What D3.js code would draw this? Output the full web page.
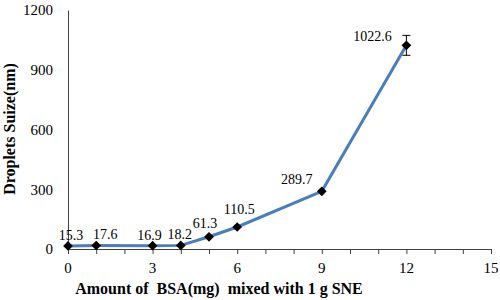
<!DOCTYPE html>
<html>
<head>
<meta charset="utf-8">
<script src="https://cdnjs.cloudflare.com/ajax/libs/d3/7.8.5/d3.min.js"></script>
<style>
  body { margin: 0; background: #fff; }
  svg, svg text { font-family: "Liberation Serif", "Times New Roman", Times, "DejaVu Serif", serif !important; }
</style>
</head>
<body>
<div id="chart"></div>
<script>
// data
const bsaAmount = [0, 1, 3, 4, 5, 6, 9, 12];
const dropletSize = [15.3, 17.6, 16.9, 18.2, 61.3, 110.5, 289.7, 1022.6];
const sizeError = [0, 0, 0, 0, 0, 0, 0, 50];
const xTicks = [0, 3, 6, 9, 12, 15];
const yTicks = [0, 300, 600, 900, 1200];

// label offsets (dx, dy) relative to each point
const labelOffsets = [[3, -6], [9, -6], [-3, -6], [-1, -6], [-4, -9], [2, -13], [-25, -7], [-34, -4]];

const width = 500, height = 300;
const margin = {top: 10, right: 9, bottom: 51, left: 68};

const svg = d3.select("#chart")
    .append("svg")
    .attr("width", width)
    .attr("height", height);

const x = d3.scaleLinear()
    .domain([0, 15])
    .range([margin.left, width - margin.right]);

const y = d3.scaleLinear()
    .domain([0, 1200])
    .range([height - margin.bottom, margin.top]);

// x axis with minor ticks every unit
const xAxis = svg.append("g")
    .attr("transform", "translate(0," + y(0) + ")")
    .call(d3.axisBottom(x).tickValues(d3.range(0, 16)).tickSize(5).tickFormat(""));
xAxis.select(".domain").attr("stroke", "#404040");
xAxis.selectAll(".tick line").attr("stroke", "#404040");

svg.append("g")
    .selectAll("text")
    .data(xTicks)
    .enter()
    .append("text")
    .attr("x", d => x(d))
    .attr("y", y(0) + 24)
    .attr("text-anchor", "middle")
    .attr("font-size", 15)
    .text(d => d);

// y axis
const yAxis = svg.append("g")
    .attr("transform", "translate(" + x(0) + ",0)")
    .call(d3.axisLeft(y).tickValues(yTicks).tickSize(0).tickPadding(15).tickFormat(d3.format("d")));
yAxis.select(".domain").attr("stroke", "#404040");
yAxis.selectAll(".tick text")
    .attr("font-size", 15)
    .attr("fill", "#000");

// axis titles
svg.append("text")
    .attr("x", 219)
    .attr("y", 294)
    .attr("text-anchor", "middle")
    .attr("font-size", 16)
    .attr("font-weight", "bold")
    .style("white-space", "pre")
    .text("Amount of  BSA(mg)  mixed with 1 g SNE");

svg.append("text")
    .attr("transform", "translate(15," + 129 + ")rotate(-90)")
    .attr("text-anchor", "middle")
    .attr("font-size", 16)
    .attr("font-weight", "bold")
    .text("Droplets Suize(nm)");

const points = bsaAmount.map((d, i) => ({x: d, y: dropletSize[i], err: sizeError[i], off: labelOffsets[i]}));

// line
svg.append("path")
    .datum(points)
    .attr("fill", "none")
    .attr("stroke", "#4a7ebb")
    .attr("stroke-width", 3)
    .attr("d", d3.line().x(d => x(d.x)).y(d => y(d.y)));

// error bars
const errs = svg.append("g").selectAll("g")
    .data(points.filter(d => d.err > 0))
    .enter()
    .append("g")
    .attr("stroke", "#000")
    .attr("stroke-width", 1);
errs.append("line")
    .attr("x1", d => x(d.x)).attr("x2", d => x(d.x))
    .attr("y1", d => y(d.y + d.err)).attr("y2", d => y(d.y - d.err));
errs.append("line")
    .attr("x1", d => x(d.x) - 4).attr("x2", d => x(d.x) + 4)
    .attr("y1", d => y(d.y + d.err)).attr("y2", d => y(d.y + d.err));
errs.append("line")
    .attr("x1", d => x(d.x) - 4).attr("x2", d => x(d.x) + 4)
    .attr("y1", d => y(d.y - d.err)).attr("y2", d => y(d.y - d.err));

// diamond markers
svg.append("g").selectAll("path")
    .data(points)
    .enter()
    .append("path")
    .attr("transform", d => "translate(" + x(d.x) + "," + y(d.y) + ")")
    .attr("d", d3.symbol().type(d3.symbolDiamond2).size(60))
    .attr("fill", "#000");

// value labels
svg.append("g").selectAll("text")
    .data(points)
    .enter()
    .append("text")
    .attr("x", d => x(d.x) + d.off[0])
    .attr("y", d => y(d.y) + d.off[1])
    .attr("text-anchor", "middle")
    .attr("font-size", 14)
    .text(d => d.y);
</script>
</body>
</html>
